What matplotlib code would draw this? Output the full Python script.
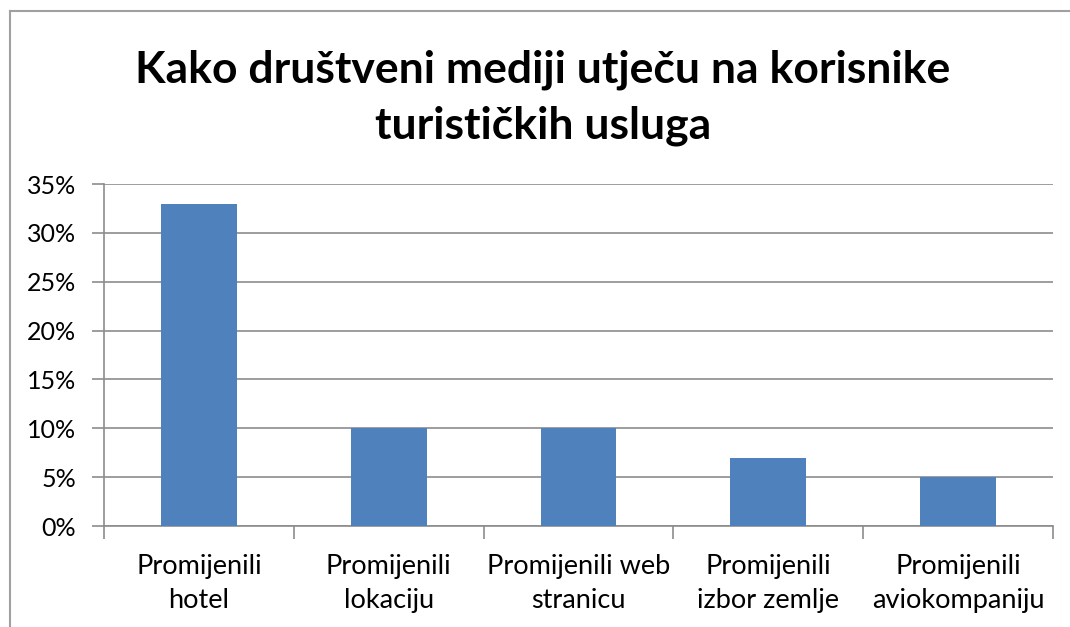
import matplotlib.pyplot as plt
import matplotlib.ticker as mticker
from matplotlib.lines import Line2D

categories = ["Promijenili\nhotel", "Promijenili\nlokaciju", "Promijenili web\nstranicu",
              "Promijenili\nizbor zemlje", "Promijenili\naviokompaniju"]
values = [33, 10, 10, 7, 5]
yticks = [0, 5, 10, 15, 20, 25, 30, 35]

BAR = "#4F81BD"
GRID = "#8C8C8C"
FONT = "Lato"

fig = plt.figure(figsize=(10.7, 6.27), dpi=100)
ax = fig.add_axes([104/1070, 1 - 526/627, (1053 - 104)/1070, (526 - 184)/627])

x = range(len(values))
ax.bar(x, values, width=0.4, color=BAR, zorder=3)

ax.set_xlim(-0.5, len(values) - 0.5)
ax.set_ylim(0, 35)
ax.set_yticks(yticks)
ax.yaxis.set_major_formatter(mticker.FuncFormatter(lambda v, p: f"{v:.0f}%"))
ax.grid(axis="y", color=GRID, linewidth=1.2, zorder=0)

# category labels centred, tick marks at the category boundaries
ax.set_xticks([i + 0.5 for i in range(-1, len(values))])
ax.set_xticklabels([])
ax.set_xticks(list(x), minor=True)
ax.set_xticklabels(categories, minor=True, fontsize=19.5, family=FONT, linespacing=1.45)
ax.tick_params(axis="x", which="minor", length=0, pad=20)
ax.tick_params(axis="x", which="major", length=9, width=1.2, color=GRID, direction="out")
ax.tick_params(axis="y", length=9, width=1.2, color=GRID, labelsize=18, pad=11)
for lab in ax.get_yticklabels():
    lab.set_family(FONT)

for s in ["top", "right"]:
    ax.spines[s].set_visible(False)
for s in ["left", "bottom"]:
    ax.spines[s].set_color(GRID)
    ax.spines[s].set_linewidth(1.2)

fig.text(543/1070, 1 - 70/627, "Kako društveni mediji utječu na korisnike",
         ha="center", va="center", fontsize=32, fontweight="bold", family=FONT)
fig.text(543/1070, 1 - 126/627, "turističkih usluga",
         ha="center", va="center", fontsize=32, fontweight="bold", family=FONT)

# outer chart border (top and left edges visible)
fig.add_artist(Line2D([10/1070, 1], [1 - 11/627, 1 - 11/627], transform=fig.transFigure,
                      color="#A0A0A0", linewidth=1.5))
fig.add_artist(Line2D([10/1070, 10/1070], [0, 1 - 11/627], transform=fig.transFigure,
                      color="#A0A0A0", linewidth=1.5))

fig.savefig("out.png", dpi=100)
